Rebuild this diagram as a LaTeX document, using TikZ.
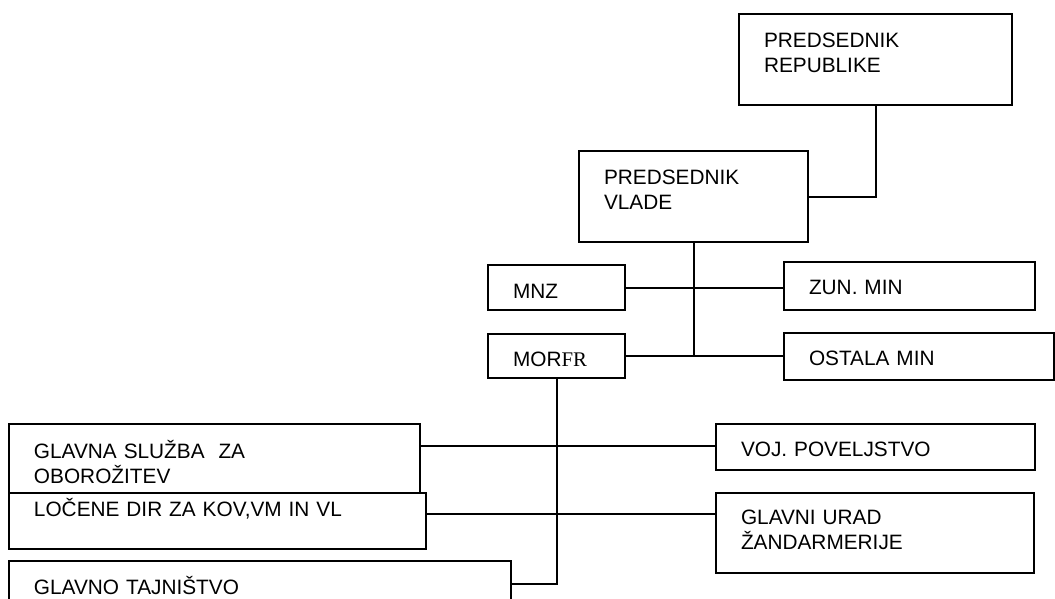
\documentclass[tikz,border=0pt]{standalone}
\usepackage{fontspec}
\setmainfont{Liberation Sans}
\newfontfamily\serifpart{Liberation Serif}
\usetikzlibrary{positioning}
\tikzset{
	-,
	orgbox/.style n args={3}{
			draw,
			line width=2pt,
			anchor=north west,
			align=left,
			inner xsep=25pt,
			inner ysep=0pt,
			font=\fontsize{20.8}{25}\selectfont,
			/utils/exec={\pgfmathsetlengthmacro\orgtw{#1-50pt}\pgfmathsetlengthmacro\orgtd{#2-#3}},
			text width=\orgtw,
			text height=#3,
			text depth=\orgtd
		},
	orgline/.style={line width=2pt},
}

\begin{document}
\begin{tikzpicture}[x=1pt, y=-1pt]
	\useasboundingbox (0,0) rectangle (1055,598);
	% vrh
	\node[orgbox={273pt}{91pt}{33pt}] (pres) at (738,13) {PREDSEDNIK\\REPUBLIKE};
	\node[orgbox={229pt}{91pt}{33pt}] (vlada) at (578,150) {PREDSEDNIK\\VLADE};
	% ministrstva
	\node[orgbox={137pt}{45pt}{33pt}] (mnz) at (487,264) {MNZ};
	\node[orgbox={137pt}{44pt}{32pt}] (morfr) at (487,333) {MOR{\serifpart FR}};
	\node[orgbox={251pt}{48pt}{32pt}] (zun) at (783,261) {ZUN. MIN};
	\node[orgbox={270pt}{47pt}{32pt}] (ostala) at (783,332) {OSTALA MIN};
	% pod MORFR
	\node[orgbox={411pt}{69pt}{34pt}] (sluzba) at (8,423) {GLAVNA SLUŽBA\ \ ZA\\OBOROŽITEV};
	\node[orgbox={417pt}{56pt}{23pt}] (locene) at (8,492) {LOČENE DIR ZA KOV,VM IN VL};
	\node[orgbox={502pt}{46pt}{33pt}] (tajnistvo) at (8,560) {GLAVNO TAJNIŠTVO};
	\node[orgbox={319pt}{46pt}{32pt}] (voj) at (715,423) {VOJ. POVELJSTVO};
	\node[orgbox={318pt}{80pt}{31pt}] (urad) at (715,492) {GLAVNI URAD\\ŽANDARMERIJE};

	\coordinate (j1) at (556,446);
	\coordinate (j2) at (556,514);

	\draw[orgline] (pres.south) |- (vlada.east);
	\draw[orgline] (vlada.south) -- (vlada.south |- morfr.east);
	\draw[orgline] (mnz.east) -- (mnz.east -| zun.west);
	\draw[orgline] (morfr.east) -- (morfr.east -| ostala.west);
	\draw[orgline] (morfr.south) |- (tajnistvo.east);
	\draw[orgline] (j1 -| sluzba.east) -- (j1 -| voj.west);
	\draw[orgline] (j2 -| locene.east) -- (j2 -| urad.west);
\end{tikzpicture}
\end{document}
